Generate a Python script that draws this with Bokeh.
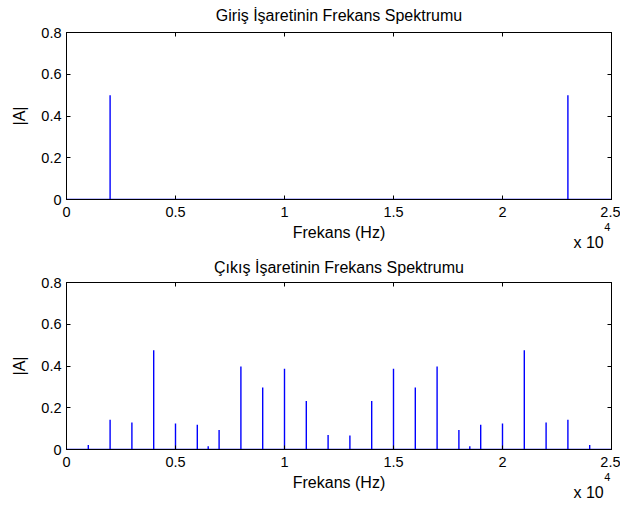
from bokeh.plotting import figure
from bokeh.layouts import column
from bokeh.models import FixedTicker, Range1d, LinearAxis
from bokeh.embed import file_html
from bokeh.resources import INLINE

# ---- data ----
fs_max = 25000
in_freqs = [2000, 23000]
in_mags = [0.50, 0.50]

out_freqs = [1000, 2000, 3000, 4000, 5000, 6000, 6500, 7000, 8000, 9000, 10000,
             11000, 12000, 13000, 14000, 15000, 16000, 17000, 18000, 18500,
             19000, 20000, 21000, 22000, 23000, 24000]
out_mags = [0.022, 0.143, 0.129, 0.476, 0.124, 0.119, 0.016, 0.094, 0.398, 0.297,
            0.387, 0.232, 0.070, 0.067, 0.232, 0.387, 0.297, 0.398, 0.094, 0.016,
            0.119, 0.124, 0.476, 0.129, 0.143, 0.022]

x_ticks = [0, 5000, 10000, 15000, 20000, 25000]
x_tick_labels = ["0", "0.5", "1", "1.5", "2", "2.5"]
y_ticks = [0, 0.2, 0.4, 0.6, 0.8]
y_tick_labels = ["0", "0.2", "0.4", "0.6", "0.8"]
x_multiplier_base = "x 10"
x_multiplier_exp = "4"

titles = ["Giriş İşaretinin Frekans Spektrumu", "Çıkış İşaretinin Frekans Spektrumu"]
x_label = "Frekans (Hz)"
y_label = "|A|"
FONT = "Liberation Sans"


def spectrum_path(freqs, mags):
    xs, ys = [0], [0]
    for f, m in zip(freqs, mags):
        xs += [f, f, f]
        ys += [0, m, 0]
    xs.append(fs_max)
    ys.append(0)
    return xs, ys


def style_axis(ax, tick_size="14.5px"):
    ax.major_tick_in = 4
    ax.major_tick_out = 0
    ax.minor_tick_in = 0
    ax.minor_tick_out = 0
    ax.axis_line_color = "black"
    ax.major_tick_line_color = "black"
    ax.major_label_text_font = FONT
    ax.major_label_text_font_size = tick_size
    ax.major_label_text_color = "black"
    ax.axis_label_text_font = FONT
    ax.axis_label_text_font_size = "16px"
    ax.axis_label_text_font_style = "normal"
    ax.axis_label_text_color = "black"


def text_axis(pos, text, size, standoff):
    ax = LinearAxis(ticker=FixedTicker(ticks=[pos]),
                    major_label_overrides={pos: text})
    style_axis(ax, size)
    ax.axis_line_color = None
    ax.major_tick_line_color = None
    ax.major_tick_in = 0
    ax.major_label_standoff = standoff
    return ax


def make_fig(title, freqs, mags, height, top, bottom, title_standoff):
    p = figure(width=620, height=height, output_backend="svg", toolbar_location=None,
               x_range=Range1d(0, fs_max), y_range=Range1d(0, 0.8),
               x_axis_type=None, y_axis_type=None,
               min_border_left=66, min_border_right=9,
               min_border_top=top, min_border_bottom=bottom,
               title=title)
    p.title.align = "center"
    p.title.vertical_align = "top"
    p.title.text_font = FONT
    p.title.text_font_size = "16px"
    p.title.text_font_style = "normal"
    p.title.text_color = "black"
    p.title.standoff = title_standoff

    xs, ys = spectrum_path(freqs, mags)
    p.line(xs, ys, line_color="#0000FF", line_width=1.4)

    xt = FixedTicker(ticks=x_ticks)
    yt = FixedTicker(ticks=y_ticks)

    # main bottom axis
    xb = LinearAxis(ticker=xt, axis_label=x_label,
                    major_label_overrides={t: l for t, l in zip(x_ticks, x_tick_labels)})
    style_axis(xb)
    xb.major_label_standoff = 7
    xb.axis_label_standoff = 4
    p.add_layout(xb, "below")

    # multiplier "x 10^4" under the right end of the x axis
    p.add_layout(text_axis(fs_max * 0.958, x_multiplier_base, "16px", -10), "below")
    p.add_layout(text_axis(fs_max * 0.9925, x_multiplier_exp, "11px", -31), "below")

    # main left axis
    yl = LinearAxis(ticker=yt, axis_label=y_label,
                    major_label_overrides={t: l for t, l in zip(y_ticks, y_tick_labels)})
    style_axis(yl)
    yl.major_label_standoff = 5
    yl.axis_label_standoff = 10
    p.add_layout(yl, "left")

    # mirrored inward ticks on top and right (no labels)
    for loc, tk in (("right", yt), ("above", xt)):
        ax = LinearAxis(ticker=tk)
        style_axis(ax)
        ax.major_label_text_font_size = "0px"
        ax.major_label_text_alpha = 0
        ax.major_label_standoff = 0
        p.add_layout(ax, loc)

    p.xgrid.ticker = xt
    p.ygrid.ticker = yt
    p.grid.grid_line_color = "#8c8c8c"
    p.grid.grid_line_alpha = 1.0
    p.grid.grid_line_width = 1
    p.outline_line_color = "black"
    p.outline_line_width = 1
    p.outline_line_alpha = 1.0
    p.background_fill_color = "white"
    p.border_fill_color = "white"
    return p


p1 = make_fig(titles[0], in_freqs, in_mags, 253, 32, 54, 13)
p2 = make_fig(titles[1], out_freqs, out_mags, 255, 28, 59, 10)

p = column(p1, p2, spacing=0)
open("out.html", "w").write(file_html(p, INLINE))
